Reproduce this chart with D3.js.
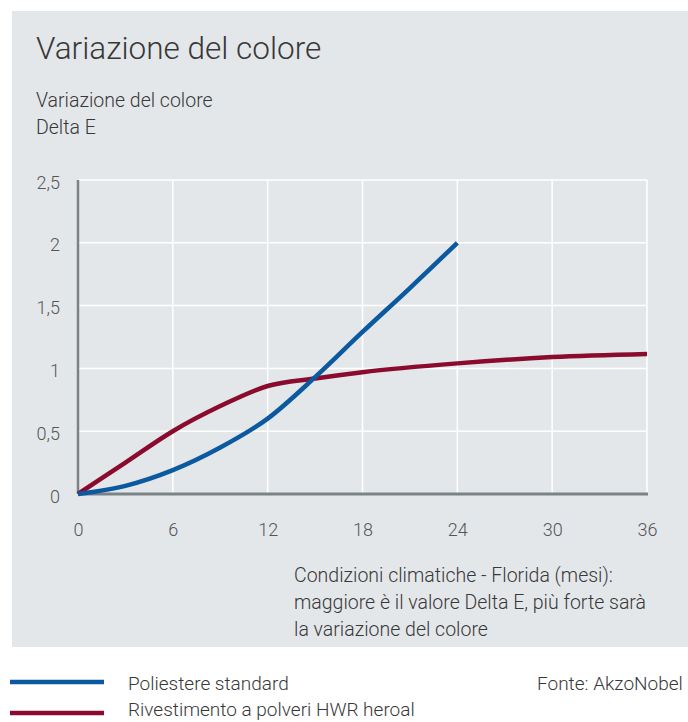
<!DOCTYPE html>
<html>
<head>
<meta charset="utf-8">
<script src="https://cdn.jsdelivr.net/npm/d3@7"></script>
<style>
  body { margin: 0; background: #fff; }
  svg { display: block; font-family: Roboto, "Liberation Sans", sans-serif; }
</style>
</head>
<body>
<div id="chart"></div>
<script>
// months and Delta E values
var blueMonths = [0, 3, 6, 9, 12, 15, 18, 21, 24];
var blueValues = [0, 0.065, 0.19, 0.37, 0.6, 0.93, 1.29, 1.64, 2.0];
var redMonths = [0, 3, 6, 9, 12, 15, 18, 24, 30, 36];
var redValues = [0, 0.25, 0.5, 0.7, 0.86, 0.92, 0.97, 1.04, 1.09, 1.115];
var xTicks = [0, 6, 12, 18, 24, 30, 36];
var yTicks = [0, 0.5, 1, 1.5, 2, 2.5];
var seriesNames = ["Poliestere standard", "Rivestimento a polveri HWR heroal"];

var svgWidth = 688;
var svgHeight = 722;
var margin = { left: 78, right: 41, top: 180, bottom: 228 };
var width = svgWidth - margin.left - margin.right;
var height = svgHeight - margin.top - margin.bottom;

var blue = "#0b599f";
var red = "#8a0b2e";
var textCol = "#383838";

var svg = d3.select("#chart")
  .append("svg")
  .attr("width", svgWidth)
  .attr("height", svgHeight);

// grey panel
svg.append("rect")
  .attr("x", 12).attr("y", 11)
  .attr("width", svgWidth - 12).attr("height", 636)
  .attr("fill", "#e4e7ea");

svg.append("text")
  .attr("x", 36).attr("y", 59)
  .attr("font-size", 31.5).attr("font-weight", 300)
  .attr("fill", textCol)
  .text("Variazione del colore");

svg.append("text")
  .attr("x", 36).attr("y", 107)
  .attr("font-size", 19.5).attr("font-weight", 300)
  .attr("fill", textCol)
  .text("Variazione del colore");
svg.append("text")
  .attr("x", 36).attr("y", 134)
  .attr("font-size", 19.5).attr("font-weight", 300)
  .attr("fill", textCol)
  .text("Delta E");

var chartGroup = svg.append("g")
  .attr("transform", `translate(${margin.left}, ${margin.top})`);

var xScale = d3.scaleLinear().domain([0, 36]).range([0, width]);
var yScale = d3.scaleLinear().domain([0, 2.5]).range([height, 0]);

// grid
chartGroup.append("g")
  .selectAll("line.v")
  .data(xTicks.slice(1))
  .enter().append("line")
  .attr("x1", d => xScale(d)).attr("x2", d => xScale(d))
  .attr("y1", 0).attr("y2", height)
  .attr("stroke", "#fff").attr("stroke-width", 1.5);
chartGroup.append("g")
  .selectAll("line.h")
  .data(yTicks.slice(1))
  .enter().append("line")
  .attr("x1", 0).attr("x2", width)
  .attr("y1", d => yScale(d)).attr("y2", d => yScale(d))
  .attr("stroke", "#fff").attr("stroke-width", 1.5);

var fmt = d => String(d).replace(".", ",");

var xAxis = d3.axisBottom(xScale).tickValues(xTicks).tickSize(0).tickPadding(29).tickFormat(fmt);
var yAxis = d3.axisLeft(yScale).tickValues(yTicks).tickSize(0).tickPadding(18).tickFormat(fmt);

var gx = chartGroup.append("g")
  .attr("transform", "translate(0," + height + ")")
  .call(xAxis);
var gy = chartGroup.append("g").call(yAxis);

[gx, gy].forEach(function (g) {
  g.select(".domain").remove();
  g.selectAll("text")
    .attr("font-size", 18)
    .attr("font-weight", 300)
    .attr("fill", "#555")
    .style("font-family", "Roboto, sans-serif");
});
gy.selectAll("text").attr("dy", "0.45em");

chartGroup.append("line")
  .attr("x1", 0).attr("x2", 0)
  .attr("y1", 0).attr("y2", height)
  .attr("stroke", "#7b8387").attr("stroke-width", 2.5);
chartGroup.append("line")
  .attr("x1", 0).attr("x2", width + 1)
  .attr("y1", height).attr("y2", height)
  .attr("stroke", "#7b8387").attr("stroke-width", 3);

var line = d3.line()
  .x(d => xScale(d[0]))
  .y(d => yScale(d[1]))
  .curve(d3.curveMonotoneX);

chartGroup.append("path")
  .datum(redMonths.map((m, i) => [m, redValues[i]]))
  .attr("d", line)
  .attr("fill", "none").attr("stroke", red).attr("stroke-width", 4.5);

chartGroup.append("path")
  .datum(blueMonths.map((m, i) => [m, blueValues[i]]))
  .attr("d", line)
  .attr("fill", "none").attr("stroke", blue).attr("stroke-width", 4.5);

// axis note
var note = ["Condizioni climatiche - Florida (mesi):",
  "maggiore è il valore Delta E, più forte sarà",
  "la variazione del colore"];
svg.append("g").selectAll("text")
  .data(note).enter().append("text")
  .attr("x", 294).attr("y", (d, i) => 582 + i * 27)
  .attr("font-size", 19.5).attr("font-weight", 300)
  .attr("fill", textCol)
  .text(d => d);

// legend
var legend = svg.append("g");
[blue, red].forEach(function (c, i) {
  legend.append("line")
    .attr("x1", 10).attr("x2", 104)
    .attr("y1", 682 + i * 31).attr("y2", 682 + i * 31)
    .attr("stroke", c).attr("stroke-width", 4.5);
  legend.append("text")
    .attr("x", 128).attr("y", 690 + i * 26)
    .attr("font-size", 19).attr("font-weight", 300)
    .attr("fill", textCol)
    .text(seriesNames[i]);
});

svg.append("text")
  .attr("x", 537).attr("y", 690)
  .attr("font-size", 19).attr("font-weight", 300)
  .attr("fill", textCol)
  .text("Fonte: AkzoNobel");
</script>
</body>
</html>
